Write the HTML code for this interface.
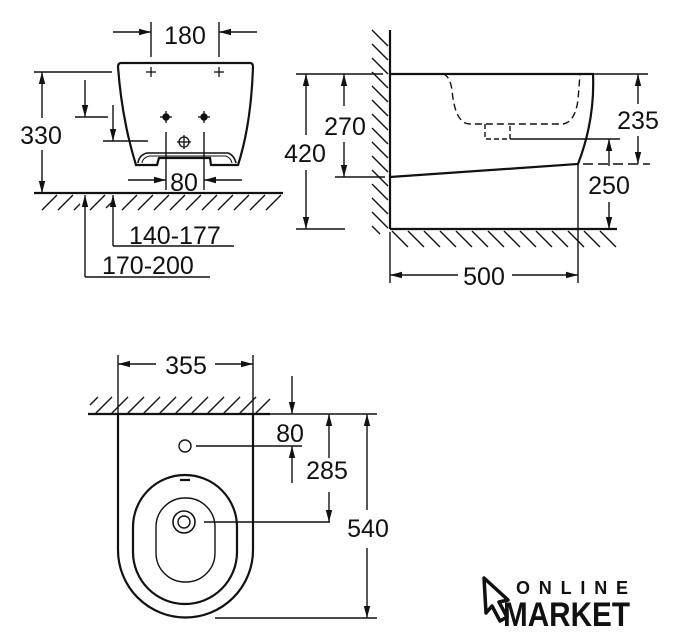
<!DOCTYPE html>
<html><head><meta charset="utf-8"><style>
html,body{margin:0;padding:0;background:#fff;}
svg{display:block;}
text{font-family:"Liberation Sans",sans-serif;font-size:25px;fill:#111;}
</style></head><body>
<svg width="684" height="640" viewBox="0 0 684 640" xmlns="http://www.w3.org/2000/svg">
<defs>
<marker id="a" markerWidth="12" markerHeight="8" refX="12" refY="4" orient="auto" markerUnits="userSpaceOnUse"><path d="M0,0.8 L12,4 L0,7.2 Z" fill="#111"/></marker>
</defs>
<g stroke="#111" stroke-width="1.4" fill="none">
<!-- ===== TOP LEFT ===== -->
<line x1="151" y1="22" x2="151" y2="57"/><line x1="219" y1="22" x2="219" y2="57"/>
<line x1="113" y1="32" x2="151" y2="32" marker-end="url(#a)"/>
<line x1="257" y1="32" x2="219" y2="32" marker-end="url(#a)"/>
<path d="M121,63 L250,63 Q253,63 253,67 Q251,125 238,165 L211,165 L210,158 L159,158 L157,165 L136,165 Q122,120 118,67 Q118,63 121,63 Z" stroke-width="2.2"/>
<path d="M138,163 Q139,155 147,153 L228,153 Q234,155 236,163" stroke-width="1.6"/>
<path d="M142,163 Q143,157 150,156 L226,156 Q231,158 232,163" stroke-width="1"/>
<line x1="166" y1="132" x2="166" y2="190"/><line x1="204" y1="132" x2="204" y2="190"/>
<line x1="128" y1="180" x2="166" y2="180" marker-end="url(#a)"/>
<line x1="242" y1="180" x2="204" y2="180" marker-end="url(#a)"/>
<g stroke-width="1.3">
<line x1="146" y1="72" x2="156" y2="72"/><line x1="151" y1="67" x2="151" y2="77"/>
<line x1="214" y1="72" x2="224" y2="72"/><line x1="219" y1="67" x2="219" y2="77"/>
<line x1="160" y1="117" x2="172" y2="117"/><line x1="166" y1="111" x2="166" y2="123"/>
<line x1="198" y1="117" x2="210" y2="117"/><line x1="204" y1="111" x2="204" y2="123"/>
<circle cx="184" cy="142" r="5"/><line x1="177" y1="142" x2="191" y2="142"/><line x1="184" y1="135" x2="184" y2="149"/>
</g>
<circle cx="166" cy="117" r="3" fill="#111"/><circle cx="204" cy="117" r="3" fill="#111"/>
<line x1="34" y1="72" x2="112" y2="72"/>
<line x1="42" y1="118" x2="42" y2="72" marker-end="url(#a)"/>
<line x1="42" y1="150" x2="42" y2="193" marker-end="url(#a)"/>
<line x1="85" y1="80" x2="85" y2="117" marker-end="url(#a)"/>
<line x1="75" y1="117" x2="108" y2="117"/>
<line x1="113" y1="105" x2="113" y2="141" marker-end="url(#a)"/>
<line x1="103" y1="141" x2="148" y2="141"/>
<line x1="34" y1="193" x2="283" y2="193" stroke-width="2.2"/>
<path d="M42,210 L57,195 M58,210 L73,195 M74,210 L80,204 M90,210 L105,195 M106,208 L111,203 M122,210 L137,195 M138,210 L153,195 M154,210 L169,195 M170,210 L185,195 M186,210 L201,195 M202,210 L217,195 M218,210 L233,195 M234,210 L249,195 M250,210 L265,195 M266,210 L281,195"/>
<line x1="85" y1="277" x2="85" y2="195" marker-end="url(#a)"/>
<line x1="113" y1="246" x2="113" y2="195" marker-end="url(#a)"/>
<line x1="113" y1="246" x2="234" y2="246"/>
<line x1="85" y1="277" x2="210" y2="277"/>
<!-- ===== TOP RIGHT ===== -->
<line x1="390" y1="30" x2="390" y2="229" stroke-width="2.2"/>
<path d="M372,30 L388,46 M372,44 L388,60 M372,58 L388,74 M372,72 L388,88 M372,86 L388,102 M372,100 L388,116 M372,114 L388,130 M372,128 L388,144 M372,142 L388,158 M372,156 L388,172 M372,170 L388,186 M372,184 L388,200 M372,198 L388,214 M372,212 L388,228 M372,226 L380,234"/>
<line x1="390" y1="229" x2="617" y2="229" stroke-width="2.2"/>
<path d="M392,231 L408,247 M408,231 L424,247 M424,231 L440,247 M440,231 L456,247 M456,231 L472,247 M472,231 L488,247 M488,231 L504,247 M504,231 L520,247 M520,231 L536,247 M536,231 L552,247 M552,231 L568,247 M568,231 L584,247 M584,231 L600,247 M600,231 L616,247"/>
<path d="M390,74 L593,74 Q595,120 578,164 L390,177" stroke-width="2.2"/>
<path d="M443,74 Q450,76 452,90 Q455,124 470,124 L563,124 Q575,122 578,100 L580,74" stroke-dasharray="7,4"/>
<path d="M485,124 L485,139 L510,139 L510,124" stroke-dasharray="5,3"/>
<line x1="296" y1="74" x2="383" y2="74"/>
<line x1="296" y1="229" x2="345" y2="229"/>
<line x1="306" y1="135" x2="306" y2="74" marker-end="url(#a)"/>
<line x1="306" y1="170" x2="306" y2="229" marker-end="url(#a)"/>
<line x1="335" y1="177" x2="385" y2="177"/>
<line x1="344" y1="106" x2="344" y2="74" marker-end="url(#a)"/>
<line x1="344" y1="142" x2="344" y2="177" marker-end="url(#a)"/>
<line x1="593" y1="74" x2="648" y2="74"/>
<line x1="583" y1="164" x2="650" y2="164" stroke-dasharray="10,5"/>
<line x1="638" y1="104" x2="638" y2="74" marker-end="url(#a)"/>
<line x1="638" y1="136" x2="638" y2="164" marker-end="url(#a)"/>
<line x1="510" y1="139" x2="620" y2="139"/>
<line x1="609" y1="166" x2="609" y2="139" marker-end="url(#a)"/>
<line x1="609" y1="202" x2="609" y2="229" marker-end="url(#a)"/>
<line x1="390" y1="232" x2="390" y2="283"/><line x1="578" y1="164" x2="578" y2="283"/>
<line x1="458" y1="275" x2="390" y2="275" marker-end="url(#a)"/>
<line x1="512" y1="275" x2="578" y2="275" marker-end="url(#a)"/>
<!-- ===== BOTTOM ===== -->
<line x1="118" y1="355" x2="118" y2="414"/><line x1="253" y1="355" x2="253" y2="414"/>
<line x1="156" y1="364" x2="118" y2="364" marker-end="url(#a)"/>
<line x1="215" y1="364" x2="253" y2="364" marker-end="url(#a)"/>
<line x1="88" y1="414" x2="270" y2="414" stroke-width="2.2"/>
<path d="M90,405 L98,397 M95,414 L112,397 M111,414 L128,397 M127,414 L144,397 M143,414 L160,397 M159,414 L176,397 M175,414 L192,397 M191,414 L208,397 M207,414 L224,397 M223,414 L240,397 M239,414 L256,397 M255,414 L270,399"/>
<path d="M118,414 L118,550 A67.5,67.5 0 0 0 253,550 L253,414" stroke-width="2.2"/>
<circle cx="185" cy="446" r="6"/>
<rect x="133" y="475" width="104" height="129" rx="52" ry="52" stroke-width="2.2"/>
<rect x="156" y="498" width="59" height="84" rx="29" ry="29"/>
<circle cx="184" cy="522" r="11" stroke-width="1.6"/><circle cx="184" cy="522" r="6"/>
<line x1="180" y1="480" x2="190" y2="480" stroke-width="2.2"/>
<line x1="196" y1="446" x2="302" y2="446"/>
<line x1="204" y1="522" x2="330" y2="522"/>
<line x1="292" y1="376" x2="292" y2="414" marker-end="url(#a)"/>
<line x1="292" y1="483" x2="292" y2="446" marker-end="url(#a)"/>
<line x1="253" y1="414" x2="377" y2="414"/>
<line x1="329" y1="458" x2="329" y2="414" marker-end="url(#a)"/>
<line x1="329" y1="492" x2="329" y2="522" marker-end="url(#a)"/>
<line x1="367" y1="510" x2="367" y2="414" marker-end="url(#a)"/>
<line x1="367" y1="548" x2="367" y2="618" marker-end="url(#a)"/>
<line x1="215" y1="618" x2="377" y2="618"/>
<!-- logo cursor -->
<path d="M484,578 L508,600 L499,602 L507,617 L500,621 L492,606 L486,613 Z" stroke-width="3.5" stroke-linejoin="round"/>
</g>
<text x="185" y="44" text-anchor="middle">180</text>
<text x="184" y="191" text-anchor="middle">80</text>
<text x="41" y="144" text-anchor="middle">330</text>
<text x="129" y="244">140-177</text>
<text x="102" y="274">170-200</text>
<text x="305" y="162" text-anchor="middle">420</text>
<text x="345" y="135" text-anchor="middle">270</text>
<text x="638" y="129" text-anchor="middle">235</text>
<text x="609" y="194" text-anchor="middle">250</text>
<text x="484" y="285" text-anchor="middle">500</text>
<text x="186" y="374" text-anchor="middle">355</text>
<text x="290" y="442" text-anchor="middle">80</text>
<text x="327" y="479" text-anchor="middle">285</text>
<text x="368" y="537" text-anchor="middle">540</text>
<text x="516" y="594" style="font-size:18px;font-weight:bold;" textLength="112" lengthAdjust="spacing">ONLINE</text>
<text x="503" y="626" style="font-size:34px;font-weight:bold;" textLength="127" lengthAdjust="spacingAndGlyphs">MARKET</text>
</svg>
</body></html>
